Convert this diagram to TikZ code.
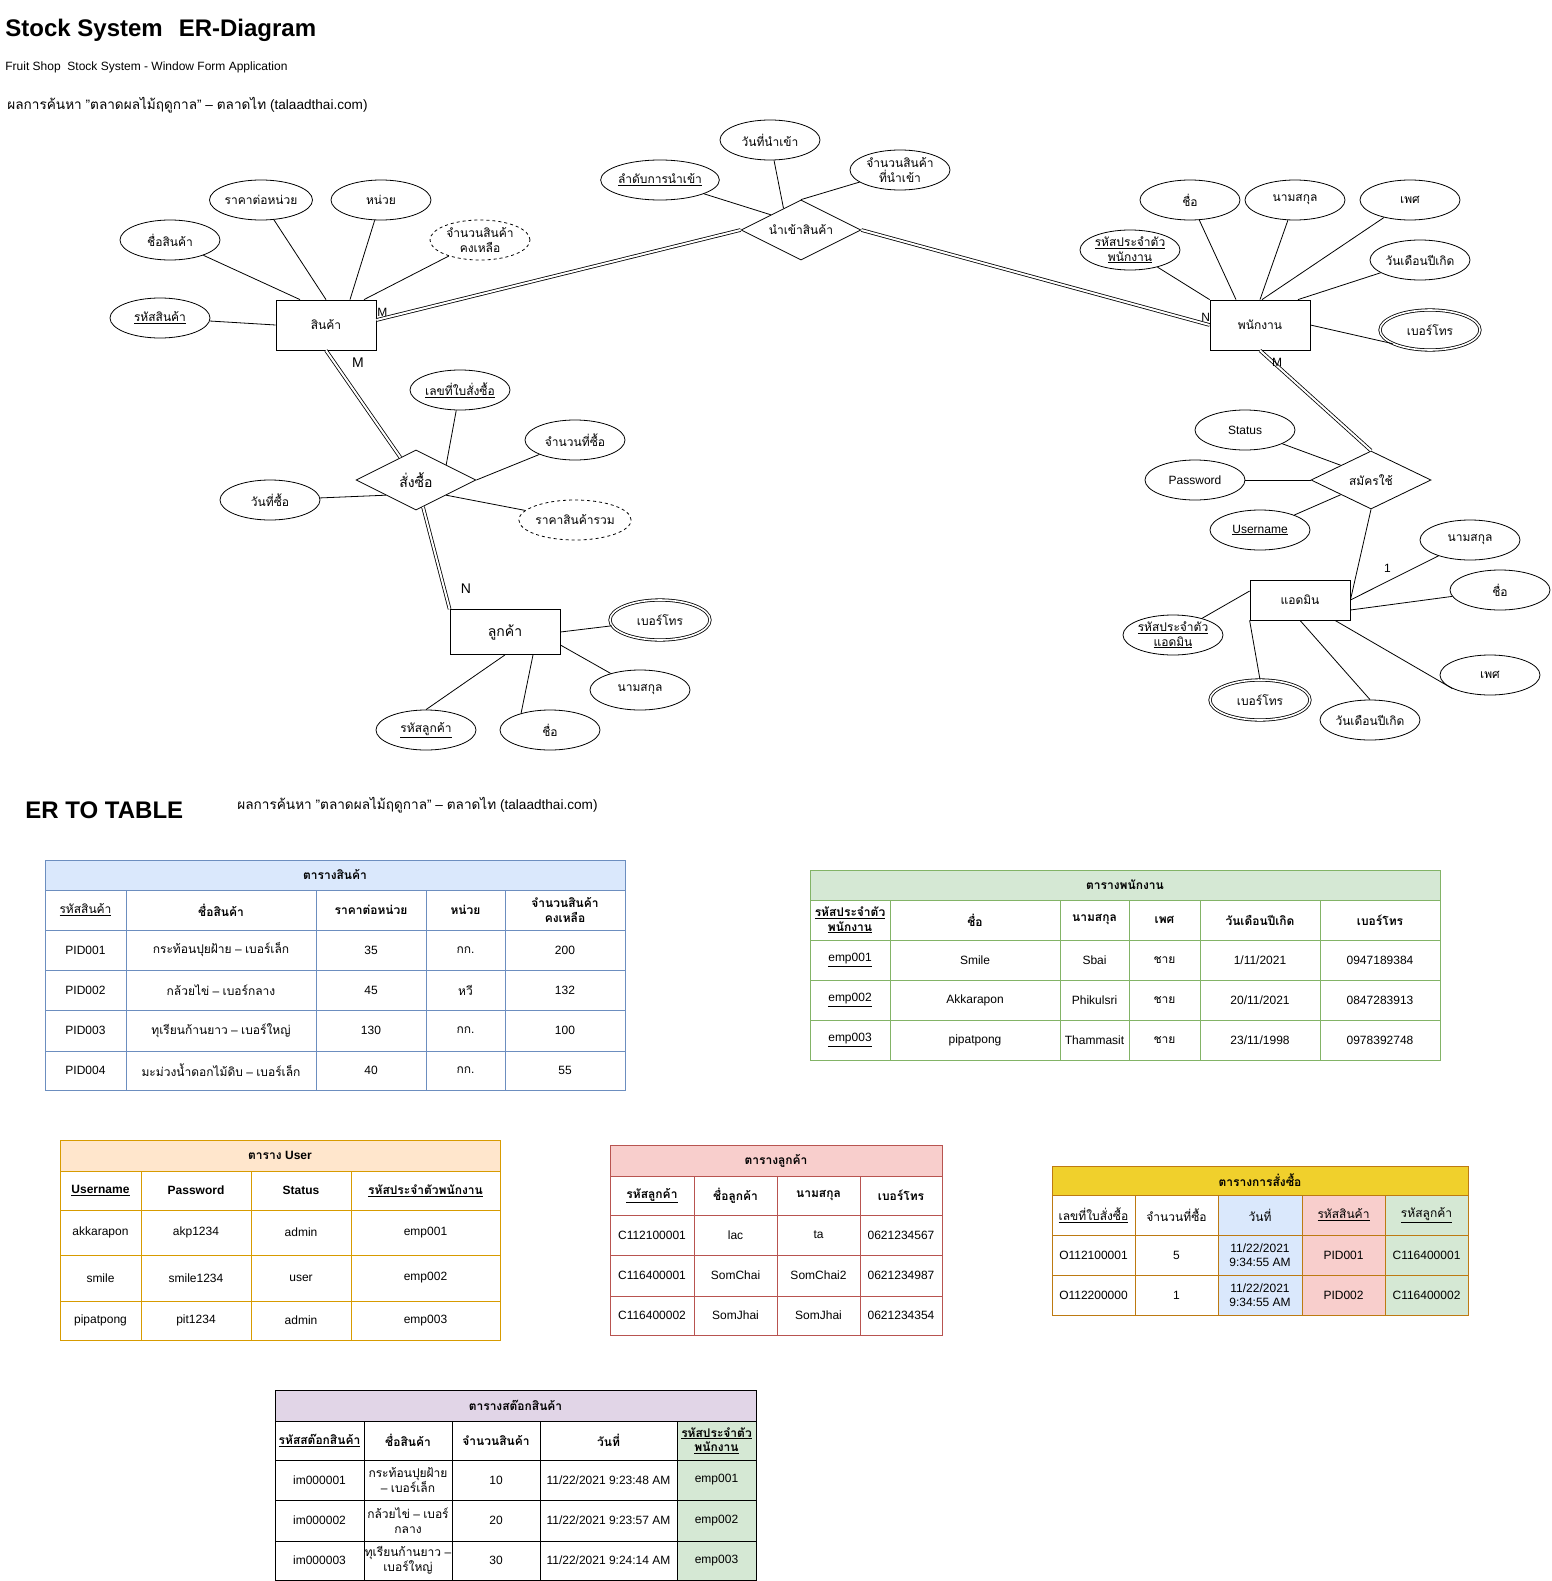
\documentclass[tikz,border=0pt]{standalone}
\usepackage{fontspec}
\setmainfont{Liberation Sans}
\newfontfamily\thaifont[Script=Thai]{Loma}
\usetikzlibrary{shapes.geometric}

% Thai letters take Loma, the rest Liberation Sans
\XeTeXinterchartokenstate=1
\newXeTeXintercharclass\thaiclass
\newcount\thaichar
\thaichar="0E01
\loop
  \XeTeXcharclass\thaichar=\thaiclass
  \advance\thaichar by 1
  \ifnum\thaichar<"0E5C
\repeat
\XeTeXinterchartoks 0 \thaiclass = {\thaifont}
\XeTeXinterchartoks 4095 \thaiclass = {\thaifont}
\XeTeXinterchartoks \thaiclass 0 = {\rmfamily}
\XeTeXinterchartoks \thaiclass 4095 = {\rmfamily}

\definecolor{bluefill}{HTML}{DAE8FC}
\definecolor{blueline}{HTML}{6C8EBF}
\definecolor{greenfill}{HTML}{D5E8D4}
\definecolor{greenline}{HTML}{82B366}
\definecolor{orangefill}{HTML}{FFE6CC}
\definecolor{orangeline}{HTML}{D79B00}
\definecolor{redfill}{HTML}{F8CECC}
\definecolor{redline}{HTML}{B85450}
\definecolor{goldfill}{HTML}{F0D02C}
\definecolor{goldline}{HTML}{BD7A12}
\definecolor{purplefill}{HTML}{E1D5E7}

\begin{document}
\begin{tikzpicture}[x=1pt, y=-1pt, line width=0.8pt,
  font=\fontsize{12}{14.5}\selectfont,
  entity/.style={draw, rectangle, minimum width=100pt, minimum height=50pt, inner sep=0pt},
  attr/.style={draw, ellipse, minimum width=100pt, minimum height=40pt, inner sep=0pt, align=center},
  derived/.style={attr, dashed},
  multi/.style={attr, double, double distance=1.6pt},
  relation/.style={draw, diamond, aspect=2, minimum width=120pt, minimum height=60pt, inner sep=0pt},
  total/.style={double, double distance=2pt},
  card/.style={inner sep=0pt},
  big/.style={font=\fontsize{14}{17}\selectfont},
  source/.style={anchor=west, inner sep=0pt, font=\fontsize{13.6}{16}\selectfont},
  heading/.style={anchor=west, inner sep=0pt, font=\bfseries\fontsize{24}{28}\selectfont},
  cell/.style={align=center, inner sep=0pt},
  hcell/.style={cell, font=\bfseries\fontsize{12}{14.5}\selectfont}]
\useasboundingbox (0,0) rectangle (1551,1581);

\node[heading] (title) at (5,30) {Stock System\hspace{16pt}ER-Diagram};
\node[anchor=west, inner sep=0pt] (subtitle) at (5,67.5) {Fruit Shop\ \ Stock System - Window Form Application};
\node[source] (src1) at (7,105) {ผลการค้นหา "ตลาดผลไม้ฤดูกาล" – ตลาดไท (talaadthai.com)};

% entities and relations
\node[entity] (prod) at (326,325) {สินค้า};
\node[entity] (emp) at (1260,325) {พนักงาน};
\node[entity, minimum width=110pt, minimum height=45pt, big] (cust) at (505,632) {ลูกค้า};
\node[entity, minimum height=40pt] (admin) at (1300,600) {แอดมิน};
\node[relation] (imp) at (801,230) {นำเข้าสินค้า};
\node[relation, big] (order) at (416,480) {สั่งซื้อ};
\node[relation, minimum height=58pt] (reg) at (1371,480) {สมัครใช้};

% attributes of สินค้า
\node[attr] (pid) at (160,318) {\underline{รหัสสินค้า}};
\node[attr] (pname) at (170,240) {ชื่อสินค้า};
\node[attr] (price) at (261,200) {ราคาต่อหน่วย};
\node[attr] (unit) at (381,200) {หน่วย};
\node[derived] (remain) at (480,240) {จำนวนสินค้า\\คงเหลือ};
\draw (pid) -- (prod.west);
\draw (pname) -- ([xshift=-26]prod.north);
\draw (price) -- (prod.north);
\draw (unit) -- ([xshift=24]prod.north);
\draw (remain) -- ([xshift=38]prod.north);

% attributes of นำเข้าสินค้า
\node[attr] (impno) at (660,180) {\underline{ลำดับการนำเข้า}};
\node[attr] (impdate) at (770,140) {วันที่นำเข้า};
\node[attr] (impqty) at (900,170) {จำนวนสินค้า\\ที่นำเข้า};
\draw (impno) -- (imp.north west);
\draw (impdate) -- (imp.129);
\draw (impqty) -- (imp.north);

% attributes of พนักงาน
\node[attr] (eid) at (1130,250) {\underline{รหัสประจำตัว}\\\underline{พนักงาน}};
\node[attr] (efirst) at (1190,200) {ชื่อ};
\node[attr] (elast) at (1295,200) {นามสกุล};
\node[attr] (esex) at (1410,200) {เพศ};
\node[attr] (ebirth) at (1420,260) {วันเดือนปีเกิด};
\node[multi] (ephone) at (1430,330) {เบอร์โทร};
\draw (eid) -- (emp.north west);
\draw (efirst) -- ([xshift=-24]emp.north);
\draw (elast) -- (emp.north);
\draw (esex) -- ([xshift=2]emp.north);
\draw (ebirth) -- ([xshift=38]emp.north);
\draw (emp.east) -- (ephone.200);

% attributes of สั่งซื้อ
\node[attr] (ordno) at (460,390) {\underline{เลขที่ใบสั่งซื้อ}};
\node[attr] (ordqty) at (575,440) {จำนวนที่ซื้อ};
\node[derived] (ordtotal) at (575,520) {ราคาสินค้ารวม};
\node[attr] (orddate) at (270,500) {วันที่ซื้อ};
\draw (ordno) -- (order.north east);
\draw (ordqty) -- (order.east);
\draw (ordtotal) -- (order.south east);
\draw (orddate) -- (order.south west);

% attributes of ลูกค้า
\node[multi] (cphone) at (660,620) {เบอร์โทร};
\node[attr] (clast) at (640,690) {นามสกุล};
\node[attr] (cfirst) at (550,730) {ชื่อ};
\node[attr] (cid) at (426,730) {\underline{รหัสลูกค้า}};
\draw (cust.east) -- (cphone);
\draw ([yshift=-13]cust.east) -- (clast);
\draw ([xshift=28]cust.south) -- (cfirst.150);
\draw (cust.south) -- (cid.north);

% attributes of สมัครใช้
\node[attr] (status) at (1245,430) {Status};
\node[attr] (pass) at (1195,480) {Password};
\node[attr] (user) at (1260,530) {\underline{Username}};
\draw (status) -- (reg.north west);
\draw (pass) -- (reg.west);
\draw (user) -- (reg.south west);

% attributes of แอดมิน
\node[attr] (alast) at (1470,540) {นามสกุล};
\node[attr] (afirst) at (1500,590) {ชื่อ};
\node[attr] (asex) at (1490,675) {เพศ};
\node[attr] (abirth) at (1370,720) {วันเดือนปีเกิด};
\node[multi] (aphone) at (1260,700) {เบอร์โทร};
\node[attr] (aid) at (1173,635) {\underline{รหัสประจำตัว}\\\underline{แอดมิน}};
\draw (admin.east) -- (alast);
\draw ([yshift=-10]admin.east) -- (afirst);
\draw ([xshift=35]admin.south) -- (asex.200);
\draw (admin.south) -- (abirth.north);
\draw (admin.south west) -- (aphone.north);
\draw ([yshift=9]admin.west) -- (aid);

% relationships
\draw[total] ([yshift=5]prod.east) -- (imp.west);
\draw[total] (imp.east) -- (emp.west);
\draw[total] (prod.south) -- (order);
\draw[total] (order) -- (cust.north west);
\draw[total] (emp.south) -- (reg.north);
\draw (reg.south) -- (admin.east);
\node[card] (m1) at ([xshift=6,yshift=13]prod.east) {M};
\node[card] (n1) at ([xshift=-4,yshift=8]emp.west) {N};
\node[card, big] (m2) at ([xshift=32,yshift=-12]prod.south) {M};
\node[card, big] (n2) at ([xshift=-39,yshift=20]cust.north) {N};
\node[card] (m3) at ([xshift=17,yshift=-12]emp.south) {M};
\node[card] (one) at ([xshift=37,yshift=32]admin.east) {1};

\node[heading] (ertitle) at (25,810) {ER TO TABLE};
\node[source] (src2) at (237,805) {ผลการค้นหา "ตลาดผลไม้ฤดูกาล" – ตลาดไท (talaadthai.com)};

% ตารางสินค้า
\fill[bluefill] (45,860) rectangle (625,890);
\draw[blueline] (45,860) rectangle (625,1090);
\foreach \y in {890,930,970,1010,1051} \draw[blueline] (45,\y) -- (625,\y);
\foreach \x in {126,316,426,505} \draw[blueline] (\x,890) -- (\x,1090);
\node[hcell] (tprod) at (335,875) {ตารางสินค้า};
\foreach \x/\t [count=\i] in {85.5/{\mdseries\underline{รหัสสินค้า}}, 221/ชื่อสินค้า, 371/ราคาต่อหน่วย, 465.5/หน่วย, 565/{จำนวนสินค้า\\คงเหลือ}}
  \node[hcell] (tprod-h\i) at (\x,910) {\t};
\foreach \y/\a/\b/\c/\d/\e [count=\i] in {950/PID001/กระท้อนปุยฝ้าย – เบอร์เล็ก/35/กก./200, 990/PID002/กล้วยไข่ – เบอร์กลาง/45/หวี/132, 1030.5/PID003/ทุเรียนก้านยาว – เบอร์ใหญ่/130/กก./100, 1070.5/PID004/มะม่วงน้ำดอกไม้ดิบ – เบอร์เล็ก/40/กก./55}{
  \node[cell] (tprod\i-1) at (85.5,\y) {\a};
  \node[cell] (tprod\i-2) at (221,\y) {\b};
  \node[cell] (tprod\i-3) at (371,\y) {\c};
  \node[cell] (tprod\i-4) at (465.5,\y) {\d};
  \node[cell] (tprod\i-5) at (565,\y) {\e};
}

% ตารางพนักงาน
\fill[greenfill] (810,870) rectangle (1440,900);
\draw[greenline] (810,870) rectangle (1440,1060);
\foreach \y in {900,940,980,1020} \draw[greenline] (810,\y) -- (1440,\y);
\foreach \x in {890,1060,1129,1200,1320} \draw[greenline] (\x,900) -- (\x,1060);
\node[hcell] (temp) at (1125,885) {ตารางพนักงาน};
\foreach \x/\t [count=\i] in {850/{\underline{รหัสประจำตัว}\\\underline{พนักงาน}}, 975/ชื่อ, 1094.5/นามสกุล, 1164.5/เพศ, 1260/วันเดือนปีเกิด, 1380/เบอร์โทร}
  \node[hcell] (temp-h\i) at (\x,920) {\t};
\foreach \y/\a/\b/\c/\d/\e/\f [count=\i] in {960/emp001/Smile/Sbai/ชาย/{1/11/2021}/0947189384, 1000/emp002/Akkarapon/Phikulsri/ชาย/{20/11/2021}/0847283913, 1040/emp003/pipatpong/Thammasit/ชาย/{23/11/1998}/0978392748}{
  \node[cell] (temp\i-1) at (850,\y) {\underline{\a}};
  \node[cell] (temp\i-2) at (975,\y) {\b};
  \node[cell] (temp\i-3) at (1094.5,\y) {\c};
  \node[cell] (temp\i-4) at (1164.5,\y) {\d};
  \node[cell] (temp\i-5) at (1260,\y) {\e};
  \node[cell] (temp\i-6) at (1380,\y) {\f};
}

% ตาราง User
\fill[orangefill] (60,1140) rectangle (500,1171);
\draw[orangeline] (60,1140) rectangle (500,1340);
\foreach \y in {1171,1210,1255,1301} \draw[orangeline] (60,\y) -- (500,\y);
\foreach \x in {141,251,351} \draw[orangeline] (\x,1171) -- (\x,1340);
\node[hcell] (tuser) at (280,1155.5) {ตาราง User};
\foreach \x/\t [count=\i] in {100.5/\underline{Username}, 196/Password, 301/Status, 425.5/\underline{รหัสประจำตัวพนักงาน}}
  \node[hcell] (tuser-h\i) at (\x,1190.5) {\t};
\foreach \y/\a/\b/\c/\d [count=\i] in {1232.5/akkarapon/akp1234/admin/emp001, 1278/smile/smile1234/user/emp002, 1320.5/pipatpong/pit1234/admin/emp003}{
  \node[cell] (tuser\i-1) at (100.5,\y) {\a};
  \node[cell] (tuser\i-2) at (196,\y) {\b};
  \node[cell] (tuser\i-3) at (301,\y) {\c};
  \node[cell] (tuser\i-4) at (425.5,\y) {\d};
}

% ตารางลูกค้า
\fill[redfill] (610,1145) rectangle (942,1176);
\draw[redline] (610,1145) rectangle (942,1335);
\foreach \y in {1176,1215,1255,1296} \draw[redline] (610,\y) -- (942,\y);
\foreach \x in {694,777,860} \draw[redline] (\x,1176) -- (\x,1335);
\node[hcell] (tcust) at (776,1160.5) {ตารางลูกค้า};
\foreach \x/\t [count=\i] in {652/\underline{รหัสลูกค้า}, 735.5/ชื่อลูกค้า, 818.5/นามสกุล, 901/เบอร์โทร}
  \node[hcell] (tcust-h\i) at (\x,1195.5) {\t};
\foreach \y/\a/\b/\c/\d [count=\i] in {1235/C112100001/lac/ta/0621234567, 1275.5/C116400001/SomChai/SomChai2/0621234987, 1315.5/C116400002/SomJhai/SomJhai/0621234354}{
  \node[cell] (tcust\i-1) at (652,\y) {\a};
  \node[cell] (tcust\i-2) at (735.5,\y) {\b};
  \node[cell] (tcust\i-3) at (818.5,\y) {\c};
  \node[cell] (tcust\i-4) at (901,\y) {\d};
}

% ตารางการสั่งซื้อ
\fill[goldfill] (1052,1166) rectangle (1468,1195);
\fill[bluefill] (1218,1195) rectangle (1302,1315);
\fill[redfill] (1302,1195) rectangle (1385,1315);
\fill[greenfill] (1385,1195) rectangle (1468,1315);
\draw[goldline] (1052,1166) rectangle (1468,1315);
\foreach \y in {1195,1235,1275} \draw[goldline] (1052,\y) -- (1468,\y);
\foreach \x in {1135,1218,1302,1385} \draw[goldline] (\x,1195) -- (\x,1315);
\node[hcell] (torder) at (1260,1180.5) {ตารางการสั่งซื้อ};
\foreach \x/\t [count=\i] in {1093.5/\underline{เลขที่ใบสั่งซื้อ}, 1176.5/จำนวนที่ซื้อ, 1260/วันที่, 1343.5/\underline{รหัสสินค้า}, 1426.5/\underline{รหัสลูกค้า}}
  \node[cell] (torder-h\i) at (\x,1215) {\t};
\foreach \y/\a/\b/\c/\d/\e [count=\i] in {1255/O112100001/5/{11/22/2021\\9:34:55 AM}/PID001/C116400001, 1295/O112200000/1/{11/22/2021\\9:34:55 AM}/PID002/C116400002}{
  \node[cell] (torder\i-1) at (1093.5,\y) {\a};
  \node[cell] (torder\i-2) at (1176.5,\y) {\b};
  \node[cell] (torder\i-3) at (1260,\y) {\c};
  \node[cell] (torder\i-4) at (1343.5,\y) {\d};
  \node[cell] (torder\i-5) at (1426.5,\y) {\e};
}

% ตารางสต๊อกสินค้า
\fill[purplefill] (275,1390) rectangle (756,1421);
\fill[greenfill] (677,1421) rectangle (756,1580);
\draw (275,1390) rectangle (756,1580);
\foreach \y in {1421,1460,1500,1541} \draw (275,\y) -- (756,\y);
\foreach \x in {364,452,540,677} \draw (\x,1421) -- (\x,1580);
\node[hcell] (tstock) at (515.5,1405.5) {ตารางสต๊อกสินค้า};
\foreach \x/\t [count=\i] in {319.5/\underline{รหัสสต๊อกสินค้า}, 408/ชื่อสินค้า, 496/จำนวนสินค้า, 608.5/วันที่, 716.5/{\underline{รหัสประจำตัว}\\\underline{พนักงาน}}}
  \node[hcell] (tstock-h\i) at (\x,1440.5) {\t};
\foreach \y/\a/\b/\c/\d/\e [count=\i] in {1480/im000001/{กระท้อนปุยฝ้าย\\– เบอร์เล็ก}/10/{11/22/2021 9:23:48 AM}/emp001, 1520.5/im000002/{กล้วยไข่ – เบอร์\\กลาง}/20/{11/22/2021 9:23:57 AM}/emp002, 1560.5/im000003/{ทุเรียนก้านยาว –\\เบอร์ใหญ่}/30/{11/22/2021 9:24:14 AM}/emp003}{
  \node[cell] (tstock\i-1) at (319.5,\y) {\a};
  \node[cell] (tstock\i-2) at (408,\y) {\b};
  \node[cell] (tstock\i-3) at (496,\y) {\c};
  \node[cell] (tstock\i-4) at (608.5,\y) {\d};
  \node[cell] (tstock\i-5) at (716.5,\y) {\e};
}
\end{tikzpicture}
\end{document}
